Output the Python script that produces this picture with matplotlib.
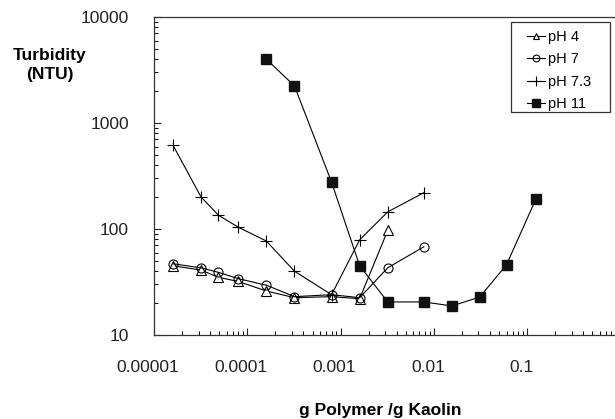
import numpy as np
import matplotlib.pyplot as plt
import matplotlib.transforms as mtransforms
from matplotlib.patches import Rectangle
from matplotlib.ticker import LogLocator, FixedFormatter, FixedLocator, NullFormatter

plt.rcParams['font.family'] = ['Liberation Sans', 'DejaVu Sans']

# data (g polymer / g kaolin vs turbidity NTU)
x_ph4 = [1.6e-5, 3.2e-5, 4.9e-5, 8e-5, 1.6e-4, 3.2e-4, 8e-4, 1.6e-3, 3.2e-3]
y_ph4 = [45, 41, 35, 32, 26, 22.5, 23, 22, 97]

x_ph7 = [1.6e-5, 3.2e-5, 4.9e-5, 8e-5, 1.6e-4, 3.2e-4, 8e-4, 1.6e-3, 3.2e-3, 7.8e-3]
y_ph7 = [47, 43, 39, 34, 29.5, 23, 24, 22.5, 43, 68]

x_ph73 = [1.6e-5, 3.2e-5, 4.9e-5, 8e-5, 1.6e-4, 3.2e-4, 8e-4, 1.6e-3, 3.2e-3, 7.8e-3]
y_ph73 = [615, 200, 135, 104, 77, 40, 24, 79, 145, 220]

x_ph11 = [1.6e-4, 3.2e-4, 8e-4, 1.6e-3, 3.2e-3, 7.8e-3, 0.0156, 0.031, 0.06, 0.124]
y_ph11 = [4000, 2240, 277, 45, 20.5, 20.5, 18.8, 22.8, 46, 192]

x_ticks = [1e-5, 1e-4, 1e-3, 1e-2, 1e-1]
x_ticklabels = ['0.00001', '0.0001', '0.001', '0.01', '0.1']
y_ticks = [10, 100, 1000, 10000]
y_ticklabels = ['10', '100', '1000', '10000']

fig = plt.figure(figsize=(6.15, 4.19), dpi=100)
ax = fig.add_axes([154/615, 1 - 335/419, 1 - 154/615, (335 - 17)/419])

lw = 0.8
ax.plot(x_ph4, y_ph4, color='black', lw=lw, marker='^', ms=6.5, mfc='white', mec='black', mew=0.8, label='pH 4')
ax.plot(x_ph7, y_ph7, color='black', lw=lw, marker='o', ms=6.5, mfc='none', mec='black', mew=0.8, label='pH 7')
ax.plot(x_ph73, y_ph73, color='black', lw=lw, marker='+', ms=9, mew=0.8, label='pH 7.3')
ax.plot(x_ph11, y_ph11, color='black', lw=lw, marker='s', ms=7, mfc='#111111', mec='#111111', label='pH 11')

ax.set_xscale('log')
ax.set_yscale('log')
ax.set_xlim(1e-5, 10 ** (-5 + 461 / 93.3))
ax.set_ylim(10, 10000)

ax.xaxis.set_major_locator(FixedLocator(x_ticks))
ax.xaxis.set_major_formatter(FixedFormatter(x_ticklabels))
ax.xaxis.set_minor_locator(LogLocator(base=10, subs=np.arange(2, 10), numticks=20))
ax.xaxis.set_minor_formatter(NullFormatter())
ax.yaxis.set_major_locator(FixedLocator(y_ticks))
ax.yaxis.set_major_formatter(FixedFormatter(y_ticklabels))
ax.yaxis.set_minor_locator(LogLocator(base=10, subs=np.arange(2, 10), numticks=20))
ax.yaxis.set_minor_formatter(NullFormatter())

ax.tick_params(which='major', direction='in', length=5, width=0.8, labelsize=12.5, colors='#222222')
ax.tick_params(which='minor', direction='in', length=3, width=0.7)
ax.tick_params(axis='x', which='major', pad=18)
ax.tick_params(axis='y', which='major', pad=18)

# labels in the reference sit a bit left of their ticks
shift = mtransforms.ScaledTranslation(-6 / 100, 0, fig.dpi_scale_trans)
for lab in ax.get_xticklabels():
    lab.set_transform(lab.get_transform() + shift)

ax.spines['right'].set_visible(False)
for s in ['left', 'bottom', 'top']:
    ax.spines[s].set_linewidth(0.9)
    ax.spines[s].set_color('#333333')

fig.text(50 / 615, 1 - 65 / 419, 'Turbidity\n(NTU)', ha='center', va='center',
         fontsize=12.5, fontweight='bold', linespacing=1.3)
fig.text(380 / 615, 1 - 410 / 419, 'g Polymer /g Kaolin', ha='center', va='center',
         fontsize=12.5, fontweight='bold')

# legend without its own frame; the box is drawn separately
leg = ax.legend(loc='upper left', bbox_to_anchor=(527 / 615, 1 - 30 / 419),
                bbox_transform=fig.transFigure, borderaxespad=0, borderpad=0,
                fontsize=10.5, handlelength=1.25, handletextpad=0.2,
                labelspacing=0.57, markerscale=0.75, frameon=False)
fig.patches.append(Rectangle((511 / 615, 1 - 112 / 419), 99 / 615, 90 / 419,
                             transform=fig.transFigure, fill=False,
                             edgecolor='#333333', linewidth=0.9))

fig.savefig('out.png', dpi=100)
